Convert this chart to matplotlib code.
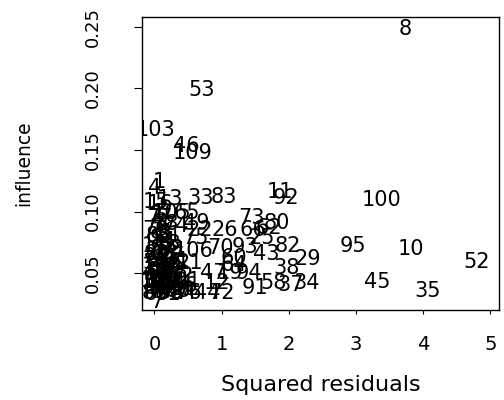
import matplotlib
matplotlib.use("Agg")
import matplotlib.pyplot as plt

labels = [8, 53, 103, 46, 109, 1, 4, 11, 92, 100,
          33, 83, 13, 15, 16, 73, 80, 22, 26, 66,
          62, 25, 75, 74, 49, 65, 105, 82, 95, 10,
          43, 29, 93, 70, 106, 60, 64, 19, 47, 94,
          38, 21, 91, 58, 37, 34, 45, 35, 52, 12,
          72, 44, 7, 86, 68, 84,
          2, 3, 5, 6, 9, 14, 17, 18, 20, 23,
          24, 27, 28, 30, 31, 32, 36, 39, 40, 41,
          42, 48, 50, 51, 54, 55, 56, 57, 59, 61,
          63, 67, 69, 71, 76, 77, 78, 79, 81, 85,
          87, 88, 89, 90, 96, 97, 98, 99, 101, 102,
          104, 107, 108]

sq_resid = [3.73, 0.70, 0.02, 0.48, 0.57, 0.075, 0.00, 1.87, 1.95, 3.38,
            0.68, 1.03, 0.23, 0.02, 0.08, 1.45, 1.82, 0.68, 1.05, 1.47,
            1.70, 1.60, 0.61, 0.32, 0.62, 0.48, 0.25, 1.99, 2.96, 3.82,
            1.67, 2.29, 1.35, 0.98, 0.58, 1.18, 1.18, 1.13, 0.88, 1.40,
            1.97, 0.53, 1.50, 1.77, 2.02, 2.27, 3.31, 4.07, 4.80, 0.93,
            1.00, 0.78, 0.035, 0.00, 0.23, 0.43,
            0.02, 0.10, 0.05, 0.15, 0.03, 0.12, 0.01, 0.20, 0.07, 0.17,
            0.04, 0.26, 0.11, 0.02, 0.33, 0.18, 0.07, 0.25, 0.01, 0.14,
            0.38, 0.05, 0.21, 0.30, 0.02, 0.10, 0.45, 0.16, 0.06, 0.26,
            0.35, 0.12, 0.04, 0.19, 0.50, 0.08, 0.17, 0.01, 0.22, 0.06,
            0.13, 0.24, 0.03, 0.14, 0.22, 0.09, 0.31, 0.18, 0.40, 0.07,
            0.28, 0.15, 0.11]

influence = [0.248, 0.1985, 0.166, 0.1534, 0.1472, 0.1243, 0.1194, 0.1161, 0.1107, 0.1094,
             0.1107, 0.1121, 0.110, 0.108, 0.106, 0.0945, 0.0905, 0.085, 0.085, 0.085,
             0.087, 0.079, 0.079, 0.088, 0.091, 0.0986, 0.0986, 0.0724, 0.0724, 0.0697,
             0.0656, 0.0616, 0.0711, 0.0703, 0.0683, 0.0621, 0.0567, 0.050, 0.050, 0.050,
             0.054, 0.058, 0.0378, 0.0419, 0.0405, 0.0419, 0.0432, 0.0357, 0.0594, 0.042,
             0.0338, 0.0338, 0.027, 0.0338, 0.0338, 0.0338,
             0.097, 0.092, 0.088, 0.083, 0.079, 0.076, 0.072, 0.074, 0.068, 0.066,
             0.063, 0.064, 0.060, 0.058, 0.060, 0.056, 0.054, 0.053, 0.050, 0.049,
             0.048, 0.046, 0.045, 0.043, 0.043, 0.041, 0.040, 0.039, 0.038, 0.037,
             0.036, 0.035, 0.0335, 0.033, 0.034, 0.095, 0.090, 0.085, 0.081, 0.080,
             0.070, 0.070, 0.066, 0.062, 0.059, 0.052, 0.051, 0.047, 0.044, 0.044,
             0.041, 0.043, 0.056]

x_ticks = [0, 1, 2, 3, 4, 5]
y_ticks = [0.05, 0.10, 0.15, 0.20, 0.25]

plt.rcParams['font.family'] = 'DejaVu Sans'

fig = plt.figure(figsize=(5.04, 4.0), dpi=100)
ax = fig.add_axes([0.2808, 0.225, 0.7099, 0.7318])

# R-style text plot: each observation drawn as its index
for lab, xv, yv in zip(labels, sq_resid, influence):
    ax.text(xv, yv, str(lab), ha='center', va='center', fontsize=15,
            color='black', clip_on=True)

ax.set_xlim(-0.193, 5.134)
ax.set_ylim(0.0203, 0.2575)
ax.set_xticks(x_ticks)
ax.set_xticklabels([str(t) for t in x_ticks])
ax.set_yticks(y_ticks)
ax.set_yticklabels(["%.2f" % t for t in y_ticks], rotation=90, va='center')

ax.tick_params(axis='x', length=3.2, width=0.8, pad=15, labelsize=14)
ax.tick_params(axis='y', length=5.5, width=0.8, pad=23, labelsize=13)
for sp in ax.spines.values():
    sp.set_linewidth(1.0)

ax.set_xlabel("Squared residuals", fontsize=16)
ax.xaxis.label.set_va('center')
ax.xaxis.set_label_coords(0.5, -0.256)
ax.set_ylabel("influence", fontsize=13.5)
ax.yaxis.label.set_va('center')
ax.yaxis.set_label_coords(-0.328, 0.5)

fig.savefig("out.png", dpi=100)
